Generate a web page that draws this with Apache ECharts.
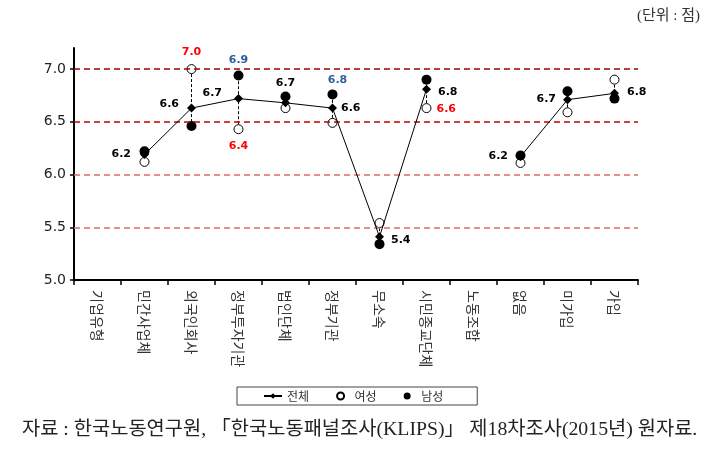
<!DOCTYPE html>
<html><head><meta charset="utf-8">
<script src="https://cdn.jsdelivr.net/npm/echarts@6/dist/echarts.min.js"></script>
<style>html,body{margin:0;padding:0;background:#fff}#c{width:720px;height:456px}</style>
</head><body><div id="c"></div>
<script>
const categories = ['기업유형','민간사업체','외국인회사','정부투자기관','법인단체','정부기관','무소속','시민종교단체','노동조합','없음','미가입','가입'];
const total  = [null,6.19,6.63,6.72,6.68,6.63,5.41,6.81,null,6.17,6.71,6.77];
const female = [null,6.12,7.00,6.43,6.63,6.49,5.54,6.63,null,6.11,6.59,6.90];
const male   = [null,6.22,6.46,6.94,6.74,6.76,5.34,6.90,null,6.18,6.79,6.72];
const yTicks = [5.0,5.5,6.0,6.5,7.0];
const refLines = [5.5,6.0,6.5,7.0];

// label placement (styles only)
const totalLab = {1:['left',9,[0,0]],2:['left',8,[0,-4]],3:['left',12,[0,-5]],4:['top',10,[0,0]],5:['right',4,[0,0]],6:['right',7,[0,3]],7:['right',7,[0,3]],9:['left',8,[0,0]],10:['left',7,[0,-1]],11:['right',8,[0,-1]]};
const femaleLab = {2:['top',6,[0,0]],3:['bottom',6,[0,0]],7:['right',5,[0,1]]};
const maleLab = {3:['top',5,[0,0]],5:['top',4,[5,0]]};
const refColors = {5.5:'#e06a6a',6.0:'#e06a6a',6.5:'#c00000',7.0:'#a00000'};

const lblBase = {show:true,fontFamily:'DejaVu Sans',fontWeight:'bold',fontSize:11,formatter:p=>Number(p.value).toFixed(1)};
function build(arr, labs, color){
  return arr.map((v,i)=>{
    if(v==null) return '-';
    const l = labs[i];
    if(!l) return {value:v,label:{show:false}};
    return {value:v,label:Object.assign({},lblBase,{color:color,position:l[0],distance:l[1],offset:l[2]})};
  });
}

const chart = echarts.init(document.getElementById('c'));
chart.setOption({
  animation:false,
  grid:{left:74,right:82,top:48,bottom:176},
  xAxis:{type:'category',data:categories,boundaryGap:true,
    axisLine:{lineStyle:{color:'#000',width:2}},
    axisTick:{show:true,alignWithLabel:false,length:5,lineStyle:{color:'#000',width:1.5}},
    axisLabel:{rotate:-90,interval:0,margin:10,fontFamily:'Noto Sans CJK KR',fontSize:14,color:'#333'}},
  yAxis:{type:'value',min:5,max:7.2,interval:0.5,
    axisLine:{show:true,lineStyle:{color:'#000',width:2}},
    axisTick:{show:true,length:4,customValues:yTicks,lineStyle:{color:'#000',width:1.5}},
    axisLabel:{customValues:yTicks,formatter:v=>v.toFixed(1),fontFamily:'DejaVu Sans',fontSize:14,color:'#222',margin:8},
    splitLine:{show:false}},
  legend:{data:['전체','여성','남성'],left:237,top:387,orient:'horizontal',
    padding:[3,34,3,26],itemGap:27,itemWidth:18,itemHeight:7,
    borderColor:'#444',borderWidth:1,
    textStyle:{fontFamily:'Noto Sans CJK KR',fontSize:12,color:'#333'}},
  graphic:[
    {type:'text',right:20,top:9,style:{text:'(단위 : 점)',font:'15px "Liberation Serif","Noto Sans CJK KR"',fill:'#333'}},
    {type:'text',left:22,top:420,style:{text:'자료 : 한국노동연구원, 「한국노동패널조사(KLIPS)」 제18차조사(2015년) 원자료.',font:'19.8px "Liberation Serif","Noto Sans CJK KR"',fill:'#222'}}
  ],
  series:[
    {name:'ref',type:'line',data:categories.map(()=>'-'),z:1,silent:true,
      markLine:{silent:true,symbol:['none','none'],label:{show:false},
        data:refLines.map(v=>({yAxis:v,lineStyle:{color:refColors[v],type:[6,4],width:1.5}}))}},
    {name:'hilo',type:'custom',z:2,silent:true,
      data:categories.map((c,i)=>female[i]==null?null:[i,female[i],male[i]]).filter(d=>d),
      encode:{x:0,y:[1,2]},
      renderItem:(params,api)=>{
        const a=api.coord([api.value(0),api.value(1)]);
        const b=api.coord([api.value(0),api.value(2)]);
        return {type:'line',shape:{x1:a[0],y1:a[1],x2:b[0],y2:b[1]},style:{stroke:'#000',lineWidth:1,lineDash:[3,2]}};
      }},
    {name:'여성',type:'scatter',z:3,symbol:'circle',symbolSize:9,
      itemStyle:{color:'#fff',borderColor:'#000',borderWidth:1,opacity:1},
      data:build(female,femaleLab,'#ff0000')},
    {name:'남성',type:'scatter',z:4,symbol:'circle',symbolSize:10,
      itemStyle:{color:'#000',opacity:1},
      data:build(male,maleLab,'#2e5e9e')},
    {name:'전체',type:'line',z:5,symbol:'diamond',symbolSize:9,connectNulls:false,
      itemStyle:{color:'#000'},lineStyle:{color:'#000',width:1},
      data:build(total,totalLab,'#000')}
  ]
});
</script></body></html>
